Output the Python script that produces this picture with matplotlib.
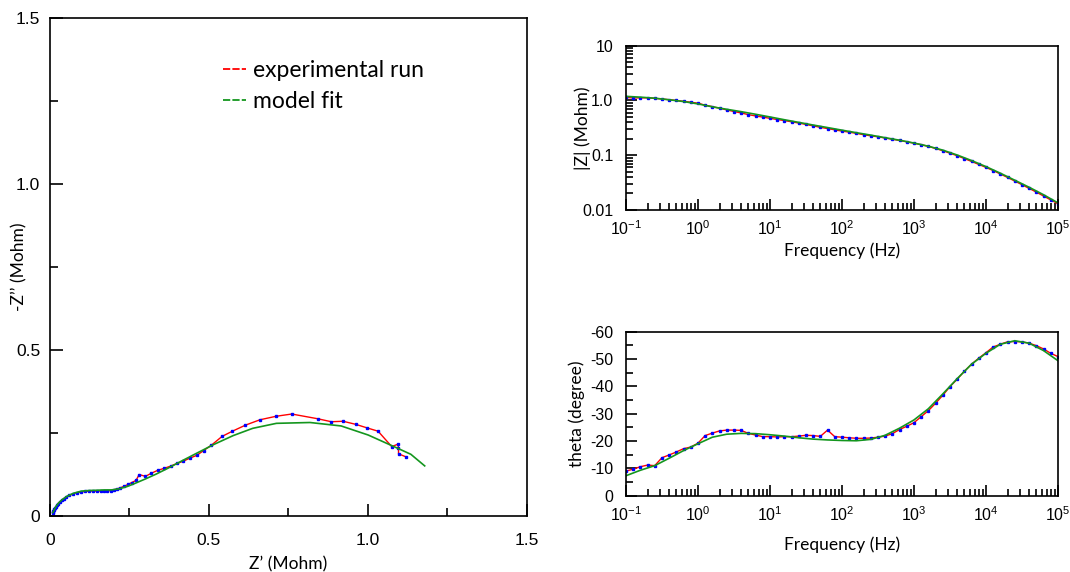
import numpy as np
import matplotlib.pyplot as plt
from matplotlib.lines import Line2D
from matplotlib.ticker import LogLocator, MultipleLocator, NullFormatter

plt.rcParams['font.family'] = ['Liberation Sans', 'DejaVu Sans']
plt.rcParams['axes.unicode_minus'] = False
plt.rcParams['mathtext.default'] = 'regular'

# measured spectrum, 10 points per decade from 0.1 Hz to 100 kHz
freq_exp = np.logspace(-1, 5, 61)
theta_exp = [-9.0, -9.7, -10.6, -11.2, -11.0, -13.9, -14.9, -16.0, -17.2, -17.8,
             -19.2, -22.0, -22.9, -23.7, -24.0, -24.0, -23.9, -22.8, -22.2, -21.6,
             -21.6, -21.5, -21.6, -21.6, -21.8, -22.1, -22.0, -21.7, -24.0, -21.6,
             -21.4, -21.2, -21.0, -21.0, -21.1, -21.4, -21.8, -22.7, -24.2, -25.4,
             -26.7, -28.9, -31.1, -33.8, -36.7, -39.9, -42.6, -45.5, -48.1, -50.3,
             -52.3, -54.4, -55.4, -56.3, -56.4, -56.3, -55.8, -54.9, -53.7, -52.1,
             -50.9]
zmag_exp = [1.135, 1.112, 1.115, 1.116, 1.095, 1.063, 1.032, 1.001, 0.965, 0.929,
            0.891, 0.820, 0.772, 0.721, 0.673, 0.628, 0.592, 0.551, 0.522, 0.497,
            0.472, 0.449, 0.430, 0.408, 0.387, 0.365, 0.344, 0.323, 0.307, 0.291,
            0.276, 0.264, 0.251, 0.237, 0.226, 0.217, 0.206, 0.196, 0.186, 0.176,
            0.166, 0.156, 0.145, 0.133, 0.121, 0.109, 0.098, 0.087, 0.077, 0.068,
            0.060, 0.0525, 0.0455, 0.0393, 0.0338, 0.0290, 0.0248, 0.0212, 0.0180, 0.0153,
            0.0130]

# equivalent circuit fit, 5 points per decade
freq_fit = np.logspace(-1, 5, 31)
theta_fit = [-7.3, -9.3, -11.0, -13.7, -16.5, -19.0, -21.4, -22.5, -22.8, -22.7,
             -22.3, -21.8, -21.2, -20.7, -20.4, -20.2, -20.1, -20.6, -22.1, -24.7,
             -27.7, -31.8, -37.2, -42.8, -48.1, -52.1, -55.4, -56.7, -55.8, -53.1,
             -49.4]
zmag_fit = [1.188, 1.15, 1.10, 1.03, 0.955, 0.865, 0.765, 0.69, 0.625, 0.56,
            0.50, 0.445, 0.398, 0.356, 0.320, 0.287, 0.258, 0.233, 0.209, 0.188,
            0.167, 0.146, 0.124, 0.101, 0.080, 0.062, 0.047, 0.035, 0.026, 0.019,
            0.0135]

# Nyquist coordinates from magnitude and phase
th = np.radians(theta_exp)
zre_exp = np.array(zmag_exp) * np.cos(th)
zim_exp = -np.array(zmag_exp) * np.sin(th)
th = np.radians(theta_fit)
zre_fit = np.array(zmag_fit) * np.cos(th)
zim_fit = -np.array(zmag_fit) * np.sin(th)

red = '#ff0000'
blue = '#0000ff'
green = '#14961e'
label_font = ['Lato', 'DejaVu Sans']

fig = plt.figure(figsize=(10.7, 5.72), dpi=100)
ax1 = fig.add_axes([0.0467, 0.0979, 0.4458, 0.8706])
ax2 = fig.add_axes([0.585, 0.6329, 0.4037, 0.2872])
ax3 = fig.add_axes([0.585, 0.1334, 0.4037, 0.2867])

exp_style = dict(color=red, lw=1, marker='s', ms=1.6, mfc=blue, mec=blue)

# Nyquist
ax1.plot(zre_exp, zim_exp, **exp_style)
ax1.plot(zre_fit, zim_fit, color=green, lw=1.2)
ax1.set_xlim(0, 1.5)
ax1.set_ylim(0, 1.5)
ax1.set_xticks([0, 0.5, 1.0, 1.5], ['0', '0.5', '1.0', '1.5'])
ax1.set_yticks([0, 0.5, 1.0, 1.5], ['0', '0.5', '1.0', '1.5'])
ax1.xaxis.set_minor_locator(MultipleLocator(0.25))
ax1.yaxis.set_minor_locator(MultipleLocator(0.25))
ax1.tick_params(which='major', direction='in', length=9, width=1.2, labelsize=12.5)
ax1.tick_params(which='minor', direction='in', length=6, width=1.2)
ax1.tick_params(axis='x', pad=12)
ax1.tick_params(axis='y', pad=7)
ax1.set_xlabel('Z\u2019 (Mohm)', fontsize=12.5, family=label_font)
ax1.set_ylabel('-Z\u2019\u2019 (Mohm)', fontsize=12.5, family=label_font)
ax1.xaxis.set_label_coords(0.5, -0.080)
ax1.yaxis.set_label_coords(-0.048, 0.5)

handles = [Line2D([], [], color=red, lw=1.3, ls=(0, (4, 1.2))),
           Line2D([], [], color=green, lw=1.3, ls=(0, (4, 1.2)))]
ax1.legend(handles, ['experimental run', 'model fit'], loc='upper left',
           bbox_to_anchor=(0.319, 0.958), frameon=False, handlelength=1.0,
           handletextpad=0.3, labelspacing=0.45,
           prop={'family': label_font, 'size': 16.5})

# |Z| vs frequency
ax2.loglog(freq_exp, zmag_exp, **exp_style)
ax2.loglog(freq_fit, zmag_fit, color=green, lw=1.2)
ax2.set_xlim(0.1, 1e5)
ax2.set_ylim(0.01, 10)
ax2.set_yticks([0.01, 0.1, 1, 10], ['0.01', '0.1', '1.0', '10'])
ax2.set_xlabel('Frequency (Hz)', fontsize=12.5, family=label_font)
ax2.set_ylabel('|Z| (Mohm)', fontsize=12.5, family=label_font)
ax2.xaxis.set_label_coords(0.5, -0.20)
ax2.yaxis.set_label_coords(-0.081, 0.5)

# phase vs frequency
ax3.semilogx(freq_exp, theta_exp, **exp_style)
ax3.semilogx(freq_fit, theta_fit, color=green, lw=1.2)
ax3.set_xlim(0.1, 1e5)
ax3.set_ylim(0, -60)
ax3.set_yticks(range(0, -61, -10))
ax3.yaxis.set_minor_locator(MultipleLocator(5))
ax3.set_xlabel('Frequency (Hz)', fontsize=12.5, family=label_font)
ax3.set_ylabel('theta (degree)', fontsize=12.5, family=label_font)
ax3.xaxis.set_label_coords(0.5, -0.246)
ax3.yaxis.set_label_coords(-0.095, 0.5)

for ax in (ax2, ax3):
    ax.xaxis.set_major_locator(LogLocator(base=10, numticks=10))
    ax.xaxis.set_minor_locator(LogLocator(base=10, subs=np.arange(2, 10), numticks=10))
    ax.xaxis.set_minor_formatter(NullFormatter())
    ax.tick_params(which='major', direction='in', length=8, width=1.2, labelsize=11.5,
                   right=False, top=False)
    ax.tick_params(which='minor', direction='in', length=5, width=1.2,
                   right=False, top=False)
    ax.tick_params(axis='x', pad=7)
    ax.tick_params(axis='y', pad=9)
ax2.yaxis.set_minor_formatter(NullFormatter())

for ax in (ax1, ax2, ax3):
    for s in ax.spines.values():
        s.set_linewidth(1.2)

fig.savefig('out.png', dpi=100)
